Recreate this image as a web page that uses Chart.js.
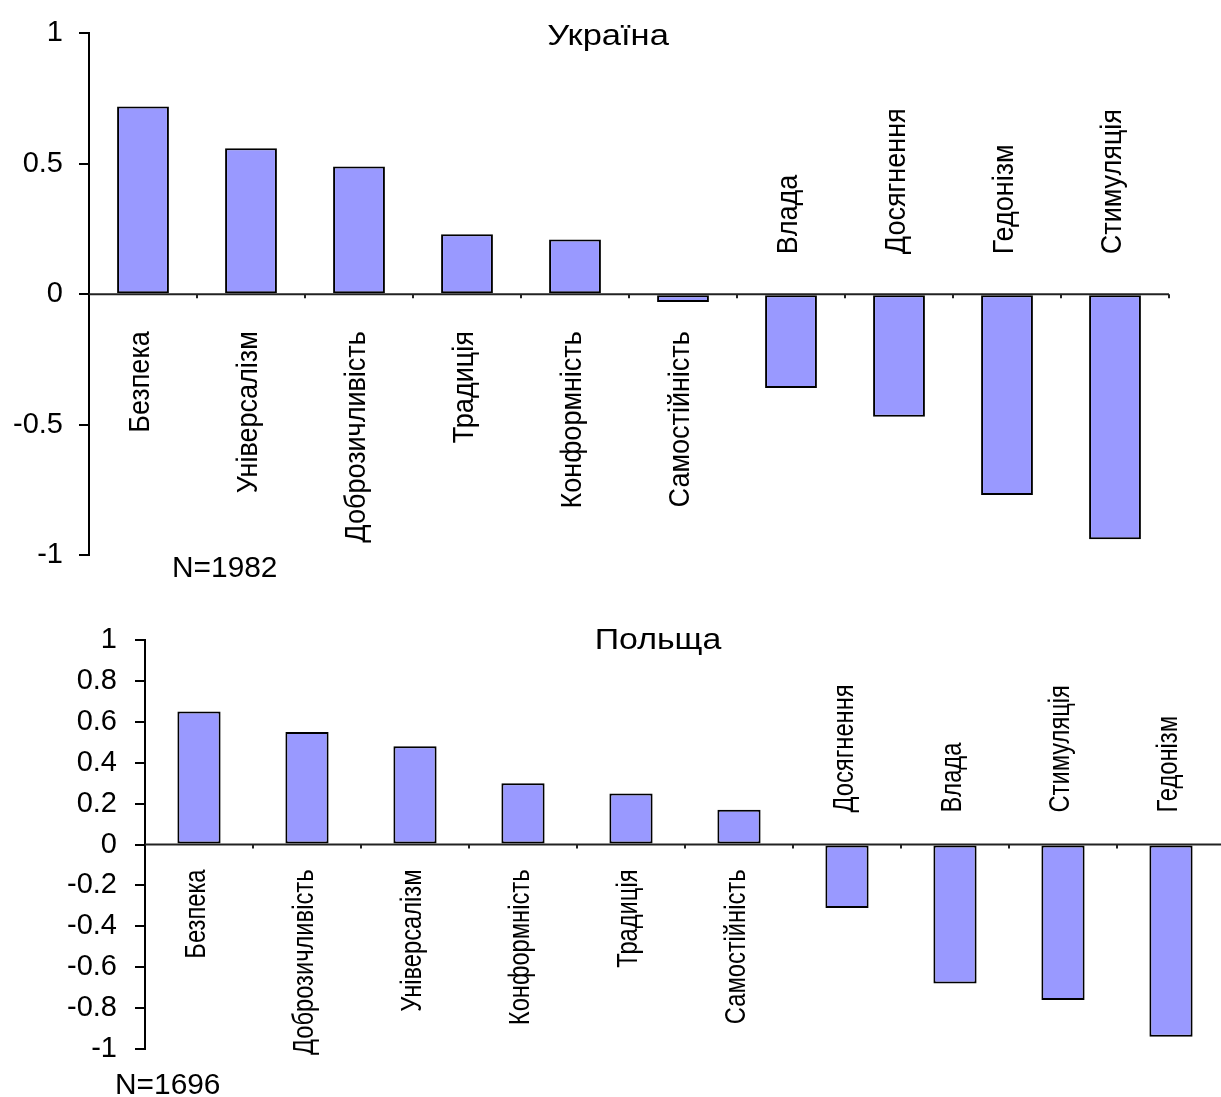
<!DOCTYPE html>
<html><head><meta charset="utf-8">
<script src="https://cdn.jsdelivr.net/npm/chart.js@4/dist/chart.umd.min.js"></script>
<style>
html,body{margin:0;padding:0;background:#fff;overflow:hidden;width:1221px;height:1097px;}
.w{position:absolute;left:0;}
</style></head><body>
<div class="w" style="top:0;width:1221px;height:600px"><canvas id="c1" width="1221" height="600"></canvas></div>
<div class="w" style="top:600px;width:1240px;height:497px"><canvas id="c2" width="1240" height="497"></canvas></div>
<script>
// ---- data ----
const uaTitle = 'Україна';
const uaNote = 'N=1982';
const uaCategories = ['Безпека','Універсалізм','Доброзичливість','Традиція','Конформність','Самостійність','Влада','Досягнення','Гедонізм','Стимуляція'];
const uaValues = [0.72, 0.56, 0.49, 0.23, 0.21, -0.03, -0.36, -0.47, -0.77, -0.94];
const uaTicks = [1, 0.5, 0, -0.5, -1];

const plTitle = 'Польща';
const plNote = 'N=1696';
const plCategories = ['Безпека','Доброзичливість','Універсалізм','Конформність','Традиція','Самостійність','Досягнення','Влада','Стимуляція','Гедонізм'];
const plValues = [0.65, 0.55, 0.48, 0.30, 0.25, 0.17, -0.31, -0.68, -0.76, -0.94];
const plTicks = [1, 0.8, 0.6, 0.4, 0.2, 0, -0.2, -0.4, -0.6, -0.8, -1];

const FONT = "'Liberation Sans', Arial, sans-serif";

function scaledText(ctx, text, x, y, sx, align) {
  ctx.save();
  ctx.translate(x, y);
  ctx.scale(sx, 1);
  ctx.textAlign = align;
  ctx.fillText(text, 0, 0);
  ctx.restore();
}

const decor = {
  id: 'decor',
  afterDatasetsDraw(chart, args, o) {
    const ctx = chart.ctx, xs = chart.scales.x, ys = chart.scales.y, ca = chart.chartArea;
    const y0 = ys.getPixelForValue(0);
    ctx.save();
    // zero axis line
    ctx.strokeStyle = '#222'; ctx.lineWidth = 2;
    ctx.beginPath(); ctx.moveTo(ca.left, y0); ctx.lineTo(ca.right, y0); ctx.stroke();
    // small tick marks at category boundaries
    const n = chart.data.labels.length;
    for (let i = 1; i <= n; i++) {
      const px = Math.round(xs.getPixelForValue(i - 0.5));
      ctx.beginPath(); ctx.moveTo(px, y0); ctx.lineTo(px, y0 + 4); ctx.stroke();
    }
    // category labels, on the side opposite to the bar
    ctx.fillStyle = '#000';
    ctx.font = o.labelFont;
    ctx.textBaseline = 'middle';
    const vals = chart.data.datasets[0].data;
    chart.data.labels.forEach((lab, i) => {
      const px = xs.getPixelForValue(i) + o.labelDx;
      ctx.save();
      ctx.translate(px, y0);
      ctx.rotate(-Math.PI / 2);
      ctx.scale(o.labelScale, 1);
      if (vals[i] > o.flip) { ctx.textAlign = 'right'; ctx.fillText(lab, -o.below / o.labelScale, 0); }
      else { ctx.textAlign = 'left'; ctx.fillText(lab, o.above / o.labelScale, 0); }
      ctx.restore();
    });
    // title and note
    ctx.textBaseline = 'alphabetic';
    ctx.font = o.titleFont;
    scaledText(ctx, o.title, o.titleX, o.titleY, o.titleSX, 'center');
    ctx.font = o.noteFont;
    scaledText(ctx, o.note, o.noteX, o.noteY, o.noteSX, 'left');
    ctx.restore();
  }
};

function makeChart(id, cats, vals, ticks, opts) {
  return new Chart(document.getElementById(id), {
    type: 'bar',
    data: {
      labels: cats,
      datasets: [{
        data: vals,
        backgroundColor: '#9999ff',
        borderColor: '#000',
        borderWidth: 2,
        borderSkipped: false,
        categoryPercentage: 1,
        barPercentage: opts.barPct
      }]
    },
    options: {
      responsive: false,
      animation: false,
      devicePixelRatio: 1,
      layout: { padding: opts.padding },
      plugins: {
        legend: { display: false },
        tooltip: { enabled: false },
        decor: opts.decor
      },
      scales: {
        x: { display: false, offset: true },
        y: {
          min: -1, max: 1,
          afterBuildTicks: s => { s.ticks = ticks.map(v => ({ value: v })); },
          afterFit: s => { s.width = opts.axisW; },
          ticks: {
            callback: v => String(v),
            font: { family: FONT, size: opts.tickSize },
            color: '#000',
            padding: opts.tickPad
          },
          grid: { drawOnChartArea: false, drawTicks: true, tickLength: 10, tickColor: '#000', lineWidth: 2 },
          border: { display: true, color: '#000', width: 2 }
        }
      }
    },
    plugins: [decor]
  });
}

makeChart('c1', uaCategories, uaValues, uaTicks, {
  barPct: 0.48, axisW: 89, tickSize: 29, tickPad: 16,
  padding: { left: 0, top: 30, right: 52, bottom: 45 },
  decor: {
    labelFont: '30px ' + FONT, labelScale: 0.9, labelDx: -2, below: 37, above: 40, flip: -0.1,
    title: uaTitle, titleFont: '30px ' + FONT, titleSX: 1.15, titleX: 608, titleY: 45,
    note: uaNote, noteFont: '29px ' + FONT, noteSX: 1.03, noteX: 172, noteY: 577
  }
});

makeChart('c2', plCategories, plValues, plTicks, {
  barPct: 0.40, axisW: 145, tickSize: 29, tickPad: 18,
  padding: { left: 0, top: 40, right: 15, bottom: 48 },
  decor: {
    labelFont: '30px ' + FONT, labelScale: 0.79, labelDx: -2, below: 25, above: 32, flip: -0.1,
    title: plTitle, titleFont: '30px ' + FONT, titleSX: 1.13, titleX: 658, titleY: 49,
    note: plNote, noteFont: '29px ' + FONT, noteSX: 1.03, noteX: 115, noteY: 1094 - 600
  }
});
</script>
</body></html>
